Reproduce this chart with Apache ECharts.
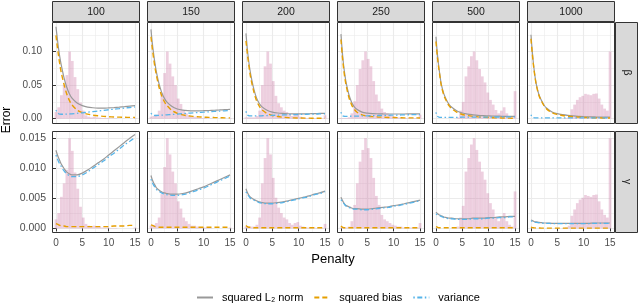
<!DOCTYPE html>
<html>
<head>
<meta charset="utf-8">
<script src="https://cdn.jsdelivr.net/npm/echarts@6/dist/echarts.min.js"></script>
<style>
html,body{margin:0;padding:0;background:#ffffff;}
#chart{width:640px;height:303px;}
</style>
</head>
<body>
<div id="chart"></div>
<script>
// ---------------- data ----------------
const SAMPLE_SIZES = ['100', '150', '200', '250', '500', '1000'];
const ROW_LABELS = ['β', 'γ'];
const SERIES_NAMES = ['squared L₂ norm', 'squared bias', 'variance'];

const PENALTY = [0, 0.25, 0.5, 0.75, 1, 1.5, 2, 2.5, 3, 4, 5, 6, 7, 8, 9, 10, 11, 12, 13, 14, 15];

const X_TICKS = [0, 5, 10, 15];
const X_MINOR = [2.5, 7.5, 12.5];
const Y_TICKS_BETA = [0, 0.05, 0.10];
const Y_MINOR_BETA = [0.025, 0.075, 0.125];
const Y_TICKS_GAMMA = [0, 0.005, 0.010, 0.015];
const Y_MINOR_GAMMA = [0.0025, 0.0075, 0.0125];

// beta row (one list per sample size, in SAMPLE_SIZES order)
const BETA_L2 = [
  [0.137, 0.120, 0.104, 0.091, 0.080, 0.062, 0.048, 0.038, 0.031, 0.0235, 0.0195, 0.0173, 0.0163, 0.0158, 0.0157, 0.0161, 0.0166, 0.0172, 0.0179, 0.0187, 0.0195],
  [0.133, 0.113, 0.097, 0.083, 0.071, 0.053, 0.040, 0.031, 0.025, 0.018, 0.0145, 0.0128, 0.0120, 0.0117, 0.0117, 0.0119, 0.0122, 0.0126, 0.0130, 0.0135, 0.0140],
  [0.127, 0.105, 0.087, 0.073, 0.062, 0.044, 0.031, 0.023, 0.018, 0.0125, 0.0098, 0.0085, 0.0078, 0.0074, 0.0072, 0.0072, 0.0073, 0.0074, 0.0076, 0.0078, 0.0080],
  [0.126, 0.100, 0.080, 0.065, 0.053, 0.036, 0.025, 0.018, 0.014, 0.0098, 0.0083, 0.0076, 0.0073, 0.0071, 0.0070, 0.0070, 0.0070, 0.0070, 0.0071, 0.0072, 0.0073],
  [0.122, 0.098, 0.080, 0.065, 0.052, 0.037, 0.028, 0.021, 0.017, 0.0115, 0.0085, 0.0068, 0.0058, 0.0050, 0.0045, 0.0041, 0.0039, 0.0037, 0.0035, 0.0034, 0.0034],
  [0.125, 0.100, 0.080, 0.064, 0.052, 0.036, 0.027, 0.020, 0.0155, 0.0100, 0.0075, 0.0060, 0.0049, 0.0041, 0.0035, 0.0031, 0.0028, 0.0026, 0.0024, 0.0023, 0.0022]
];
const BETA_BIAS = [
  [0.124, 0.108, 0.093, 0.080, 0.069, 0.052, 0.038, 0.028, 0.021, 0.013, 0.009, 0.0068, 0.0053, 0.0043, 0.0035, 0.0030, 0.0026, 0.0023, 0.0021, 0.0020, 0.0019],
  [0.122, 0.105, 0.090, 0.077, 0.066, 0.048, 0.035, 0.026, 0.020, 0.012, 0.008, 0.0057, 0.0043, 0.0034, 0.0028, 0.0023, 0.0020, 0.0017, 0.0015, 0.0013, 0.0012],
  [0.116, 0.098, 0.082, 0.068, 0.057, 0.040, 0.027, 0.019, 0.0135, 0.0078, 0.0048, 0.0032, 0.0022, 0.0016, 0.0012, 0.0010, 0.0009, 0.0008, 0.0007, 0.0007, 0.0007],
  [0.118, 0.094, 0.075, 0.060, 0.049, 0.032, 0.021, 0.0142, 0.0100, 0.0058, 0.0040, 0.0031, 0.0026, 0.0022, 0.0019, 0.0017, 0.0015, 0.0013, 0.0012, 0.0012, 0.0011],
  [0.115, 0.094, 0.077, 0.063, 0.050, 0.035, 0.026, 0.019, 0.015, 0.0094, 0.0063, 0.0046, 0.0035, 0.0027, 0.0021, 0.0017, 0.0014, 0.0012, 0.0010, 0.0008, 0.0007],
  [0.119, 0.097, 0.078, 0.063, 0.051, 0.035, 0.026, 0.019, 0.0143, 0.0088, 0.0063, 0.0048, 0.0037, 0.0029, 0.0023, 0.0019, 0.0016, 0.0014, 0.0012, 0.0011, 0.0010]
];
const BETA_VAR = [
  [0.0130, 0.0095, 0.0075, 0.0068, 0.0066, 0.0066, 0.0068, 0.0070, 0.0073, 0.0080, 0.0088, 0.0097, 0.0106, 0.0115, 0.0124, 0.0133, 0.0142, 0.0150, 0.0159, 0.0167, 0.0175],
  [0.0085, 0.0060, 0.0050, 0.0048, 0.0048, 0.0050, 0.0052, 0.0055, 0.0058, 0.0063, 0.0069, 0.0075, 0.0081, 0.0087, 0.0092, 0.0097, 0.0102, 0.0108, 0.0113, 0.0118, 0.0124],
  [0.0110, 0.0060, 0.0045, 0.0042, 0.0041, 0.0041, 0.0042, 0.0043, 0.0044, 0.0047, 0.0050, 0.0053, 0.0056, 0.0059, 0.0061, 0.0063, 0.0065, 0.0067, 0.0069, 0.0071, 0.0073],
  [0.0098, 0.0050, 0.0037, 0.0035, 0.0035, 0.0036, 0.0037, 0.0038, 0.0039, 0.0041, 0.0043, 0.0045, 0.0047, 0.0049, 0.0051, 0.0053, 0.0055, 0.0057, 0.0059, 0.0060, 0.0062],
  [0.0094, 0.0040, 0.0025, 0.0021, 0.0020, 0.0020, 0.0020, 0.0020, 0.0021, 0.0021, 0.0022, 0.0022, 0.0023, 0.0023, 0.0024, 0.0024, 0.0025, 0.0025, 0.0026, 0.0026, 0.0027],
  [0.0060, 0.0025, 0.0016, 0.0013, 0.0012, 0.0012, 0.0012, 0.0012, 0.0012, 0.0012, 0.0012, 0.0012, 0.0012, 0.0012, 0.0012, 0.0012, 0.0012, 0.0012, 0.0012, 0.0012, 0.0012]
];

// gamma row
const GAMMA_L2 = [
  [0.0130, 0.0123, 0.0117, 0.0112, 0.0107, 0.0100, 0.0094, 0.0091, 0.0089, 0.0089, 0.0092, 0.0097, 0.0103, 0.0109, 0.0115, 0.0122, 0.0129, 0.0136, 0.0143, 0.0150, 0.0156],
  [0.0088, 0.0081, 0.0076, 0.0072, 0.0068, 0.0064, 0.0061, 0.0059, 0.0058, 0.0057, 0.0057, 0.0058, 0.0060, 0.0063, 0.0066, 0.0069, 0.0073, 0.0077, 0.0081, 0.0085, 0.0089],
  [0.0066, 0.0060, 0.0056, 0.0053, 0.0051, 0.0048, 0.0046, 0.0044, 0.0043, 0.0042, 0.0042, 0.0043, 0.0044, 0.0046, 0.0048, 0.0050, 0.0052, 0.0054, 0.0057, 0.0059, 0.0062],
  [0.0052, 0.0047, 0.0043, 0.0040, 0.0038, 0.0036, 0.0034, 0.0033, 0.0033, 0.0032, 0.0032, 0.0033, 0.0034, 0.0035, 0.0036, 0.0038, 0.0039, 0.0041, 0.0043, 0.0045, 0.0047],
  [0.0027, 0.0025, 0.0023, 0.0022, 0.0021, 0.0019, 0.0018, 0.0017, 0.0017, 0.0016, 0.0016, 0.0016, 0.0017, 0.0017, 0.0017, 0.0018, 0.0018, 0.0019, 0.0019, 0.0020, 0.0020],
  [0.0014, 0.0013, 0.0012, 0.0011, 0.0011, 0.0010, 0.00095, 0.0009, 0.0009, 0.00085, 0.00085, 0.00085, 0.00085, 0.00085, 0.00085, 0.00085, 0.00085, 0.0009, 0.0009, 0.0009, 0.0009]
];
const GAMMA_BIAS = [
  [0.0008, 0.0007, 0.0006, 0.0005, 0.0004, 0.0004, 0.0003, 0.0003, 0.0003, 0.0003, 0.0003, 0.0003, 0.0003, 0.0003, 0.0003, 0.0003, 0.0004, 0.0004, 0.0004, 0.0005, 0.0005],
  [0.0006, 0.0005, 0.0004, 0.0003, 0.0003, 0.0002, 0.0002, 0.0002, 0.0002, 0.0002, 0.0002, 0.0002, 0.0002, 0.0002, 0.0002, 0.0002, 0.0002, 0.0002, 0.0002, 0.0002, 0.0002],
  [0.0005, 0.0003, 0.0002, 0.0002, 0.0002, 0.0001, 0.0001, 0.0001, 0.0001, 0.0001, 0.0001, 0.0001, 0.0001, 0.0001, 0.0001, 0.0001, 0.0001, 0.0001, 0.0001, 0.0001, 0.0001],
  [0.0004, 0.0002, 0.0001, 0.0001, 0.0001, 0.0001, 0.0001, 0.0001, 0.0001, 0.0001, 0.0001, 0.0001, 0.0001, 0.0001, 0.0001, 0.0001, 0.0001, 0.0001, 0.0001, 0.0001, 0.0001],
  [0.0003, 0.0002, 0.0001, 0.0001, 0.0001, 0.0001, 0.0001, 0.0001, 0.0001, 0.0001, 0.0001, 0.0001, 0.0001, 0.0001, 0.0001, 0.0001, 0.0001, 0.0001, 0.0001, 0.0001, 0.0001],
  [0.0002, 0.00012, 0.0001, 0.00008, 0.00007, 0.00006, 0.00005, 0.00005, 0.00005, 0.00005, 0.00005, 0.00005, 0.00005, 0.00005, 0.00005, 0.00005, 0.00005, 0.00005, 0.00005, 0.00005, 0.00005]
];
const GAMMA_VAR = [
  [0.0122, 0.0116, 0.0111, 0.0107, 0.0103, 0.0096, 0.0091, 0.0088, 0.0086, 0.0086, 0.0089, 0.0094, 0.0100, 0.0106, 0.0112, 0.0119, 0.0125, 0.0132, 0.0139, 0.0145, 0.0151],
  [0.0082, 0.0076, 0.0072, 0.0069, 0.0065, 0.0062, 0.0059, 0.0057, 0.0056, 0.0055, 0.0055, 0.0056, 0.0058, 0.0061, 0.0064, 0.0067, 0.0071, 0.0075, 0.0079, 0.0083, 0.0087],
  [0.0061, 0.0057, 0.0054, 0.0051, 0.0049, 0.0047, 0.0045, 0.0043, 0.0042, 0.0041, 0.0041, 0.0042, 0.0043, 0.0045, 0.0047, 0.0049, 0.0051, 0.0053, 0.0056, 0.0058, 0.0061],
  [0.0048, 0.0045, 0.0042, 0.0039, 0.0037, 0.0035, 0.0033, 0.0032, 0.0032, 0.0031, 0.0031, 0.0032, 0.0033, 0.0034, 0.0035, 0.0037, 0.0038, 0.0040, 0.0042, 0.0044, 0.0046],
  [0.0024, 0.0023, 0.0022, 0.0021, 0.0020, 0.0018, 0.0017, 0.0016, 0.0016, 0.0015, 0.0015, 0.0015, 0.0016, 0.0016, 0.0016, 0.0017, 0.0017, 0.0018, 0.0018, 0.0019, 0.0019],
  [0.0012, 0.0012, 0.0011, 0.0010, 0.0010, 0.00094, 0.0009, 0.00085, 0.00085, 0.0008, 0.0008, 0.0008, 0.0008, 0.0008, 0.0008, 0.0008, 0.0008, 0.00085, 0.00085, 0.00085, 0.00085]
];

// histogram of selected penalty: bin centres and heights relative to the tallest bin
const HIST_BINS = [0, 0.52, 1.03, 1.55, 2.07, 2.59, 3.10, 3.62, 4.14, 4.66, 5.17, 5.69, 6.21, 6.72, 7.24, 7.76, 8.28, 8.79, 9.31, 9.83, 10.34, 10.86, 11.38, 11.90, 12.41, 12.93, 13.45, 13.97, 14.48, 15.00];
const HIST_REL = [
  [0.10, 0.17, 0.35, 0.50, 0.65, 1.00, 0.86, 0.62, 0.44, 0.24, 0.12, 0.05, 0.03, 0.02, 0.03, 0.02, 0.015, 0.01, 0.01, 0.01, 0.005, 0.005, 0.005, 0, 0, 0, 0, 0, 0, 0.01],
  [0.03, 0.04, 0.06, 0.12, 0.38, 0.68, 1.00, 0.82, 0.63, 0.50, 0.30, 0.22, 0.12, 0.08, 0.05, 0.03, 0.03, 0.02, 0.015, 0.01, 0.01, 0.005, 0.005, 0, 0, 0, 0, 0, 0, 0.01],
  [0.02, 0.02, 0.02, 0.02, 0.04, 0.12, 0.50, 0.78, 1.00, 0.82, 0.56, 0.34, 0.23, 0.17, 0.12, 0.10, 0.06, 0.04, 0.06, 0.07, 0.03, 0.02, 0.01, 0.01, 0.01, 0.01, 0.005, 0.005, 0.005, 0.05],
  [0.01, 0.01, 0.01, 0.02, 0.08, 0.26, 0.50, 0.74, 0.87, 1.00, 0.89, 0.78, 0.56, 0.36, 0.26, 0.15, 0.10, 0.08, 0.06, 0.04, 0.03, 0.02, 0.02, 0.01, 0.01, 0.01, 0.01, 0.01, 0.01, 0.06],
  [0, 0, 0, 0, 0, 0, 0, 0, 0.02, 0.12, 0.25, 0.63, 0.78, 0.93, 1.00, 0.87, 0.74, 0.63, 0.54, 0.39, 0.28, 0.21, 0.13, 0.08, 0.12, 0.17, 0.08, 0.04, 0.02, 0.41],
  [0, 0, 0, 0, 0, 0, 0, 0, 0, 0, 0, 0, 0.005, 0.01, 0.03, 0.14, 0.21, 0.28, 0.32, 0.34, 0.37, 0.36, 0.35, 0.37, 0.375, 0.30, 0.21, 0.15, 0.12, 1.00]
];
// tallest histogram bin drawn at this error value in each row
const HIST_PEAK = [0.10, 0.015];

// ---------------- layout / style ----------------
const FONT = '"Liberation Sans", Arial, Helvetica, sans-serif';
const COL_LEFT = [52, 147, 242, 337, 432, 527];
const ROW_TOP = [22, 131];
const PW = 87, PH = 101;
const X_MIN = -0.75, X_MAX = 15.75;
const C_L2 = '#999999', C_BIAS = '#E69F00', C_VAR = '#56B4E9';
const C_HIST = 'rgba(204,121,167,0.36)';

const rows = [
  { l2: BETA_L2, bias: BETA_BIAS, vr: BETA_VAR, yMin: -0.0064, yMax: 0.144, ticks: Y_TICKS_BETA, minor: Y_MINOR_BETA, dec: 2, peak: HIST_PEAK[0], labMargin: 10, labSize: 10 },
  { l2: GAMMA_L2, bias: GAMMA_BIAS, vr: GAMMA_VAR, yMin: -0.0006, yMax: 0.0162, ticks: Y_TICKS_GAMMA, minor: Y_MINOR_GAMMA, dec: 3, peak: HIST_PEAK[1], labMargin: 6, labSize: 10.5 }
];

const BIN_W = (HIST_BINS[HIST_BINS.length - 1] - HIST_BINS[0]) / (HIST_BINS.length - 1);

const grids = [], xAxes = [], yAxes = [], series = [], graphics = [];

rows.forEach((row, r) => {
  SAMPLE_SIZES.forEach((n, c) => {
    const gi = grids.length;
    const isBottom = r === rows.length - 1;
    const isLeft = c === 0;
    grids.push({
      left: COL_LEFT[c], top: ROW_TOP[r], width: PW, height: PH,
      show: false, containLabel: false, outerBoundsMode: 'none'
    });
    // major x
    xAxes.push({
      gridIndex: gi, type: 'value', min: X_MIN, max: X_MAX, position: 'bottom',
      axisLine: { show: false },
      axisTick: { show: isBottom, customValues: X_TICKS, length: 3, lineStyle: { color: '#333333', width: 1 } },
      axisLabel: { show: isBottom, customValues: X_TICKS, margin: 6, color: '#4d4d4d', fontSize: 10, fontFamily: FONT },
      splitLine: { show: true, lineStyle: { color: '#ebebeb', width: 1.1 } }
    });
    // minor x
    xAxes.push({
      gridIndex: gi, type: 'value', min: X_MIN, max: X_MAX, position: 'top',
      axisLine: { show: false },
      axisTick: { show: false, customValues: X_MINOR },
      axisLabel: { show: false, customValues: X_MINOR },
      splitLine: { show: true, lineStyle: { color: '#ebebeb', width: 0.6 } }
    });
    // major y
    yAxes.push({
      gridIndex: gi, type: 'value', min: row.yMin, max: row.yMax, position: 'left',
      axisLine: { show: false },
      axisTick: { show: isLeft, customValues: row.ticks, length: 3, lineStyle: { color: '#333333', width: 1 } },
      axisLabel: { show: isLeft, customValues: row.ticks, margin: row.labMargin, color: '#4d4d4d', fontSize: row.labSize, fontFamily: FONT,
        formatter: v => Number(v).toFixed(row.dec) },
      splitLine: { show: true, lineStyle: { color: '#ebebeb', width: 1.1 } }
    });
    // minor y
    yAxes.push({
      gridIndex: gi, type: 'value', min: row.yMin, max: row.yMax, position: 'right',
      axisLine: { show: false },
      axisTick: { show: false, customValues: row.minor },
      axisLabel: { show: false, customValues: row.minor },
      splitLine: { show: true, lineStyle: { color: '#ebebeb', width: 0.6 } }
    });
    const xi = 2 * gi, yi = 2 * gi;
    // histogram
    series.push({
      type: 'custom', xAxisIndex: xi, yAxisIndex: yi, silent: true, clip: true,
      data: HIST_BINS.map((b, k) => [b, HIST_REL[c][k] * row.peak]),
      renderItem: (params, api) => {
        const x = api.value(0), h = api.value(1);
        const p0 = api.coord([x - BIN_W / 2, h]);
        const p1 = api.coord([x + BIN_W / 2, 0]);
        return {
          type: 'rect',
          shape: { x: p0[0], y: p0[1], width: p1[0] - p0[0], height: p1[1] - p0[1] },
          style: { fill: C_HIST }
        };
      }
    });
    const mk = (name, arr, color, width, type) => ({
      type: 'line', name, xAxisIndex: xi, yAxisIndex: yi,
      data: PENALTY.map((p, k) => [p, arr[c][k]]),
      symbol: 'none', showSymbol: false, smooth: 0.3, silent: true, clip: true,
      itemStyle: { color },
      lineStyle: { color, width, type }
    });
    series.push(mk(SERIES_NAMES[0], row.l2, C_L2, 1.2, 'solid'));
    series.push(mk(SERIES_NAMES[1], row.bias, C_BIAS, 1.4, [5, 3]));
    series.push(mk(SERIES_NAMES[2], row.vr, C_VAR, 1.3, [1.5, 2.5, 5, 2.5]));
    // panel border (drawn above data)
    graphics.push({ type: 'rect', z: 100, silent: true,
      shape: { x: COL_LEFT[c] + 0.5, y: ROW_TOP[r] + 0.5, width: PW, height: PH },
      style: { fill: 'none', stroke: '#333333', lineWidth: 1 } });
  });
});

// strips (facet labels)
SAMPLE_SIZES.forEach((n, c) => {
  graphics.push({ type: 'rect', shape: { x: COL_LEFT[c] + 0.5, y: 1.5, width: PW, height: 20 },
    style: { fill: '#d9d9d9', stroke: '#333333', lineWidth: 1 }, silent: true });
  graphics.push({ type: 'text', x: COL_LEFT[c] + PW / 2 + 0.5, y: 12, silent: true,
    style: { text: n, fontSize: 10.5, fontFamily: FONT, fill: '#1a1a1a', align: 'center', verticalAlign: 'middle' } });
});
ROW_LABELS.forEach((lab, r) => {
  graphics.push({ type: 'rect', shape: { x: 615.5, y: ROW_TOP[r] + 0.5, width: 22, height: PH },
    style: { fill: '#d9d9d9', stroke: '#333333', lineWidth: 1 }, silent: true });
  graphics.push({ type: 'text', x: 627, y: ROW_TOP[r] + PH / 2, rotation: -Math.PI / 2, silent: true,
    style: { text: lab, fontSize: 10.5, fontFamily: FONT, fill: '#1a1a1a', align: 'center', verticalAlign: 'middle' } });
});
// axis titles
graphics.push({ type: 'text', x: 333, y: 259.5, silent: true,
  style: { text: 'Penalty', fontSize: 13, fontFamily: FONT, fill: '#000000', align: 'center', verticalAlign: 'middle' } });
graphics.push({ type: 'text', x: 7, y: 120, rotation: Math.PI / 2, silent: true,
  style: { text: 'Error', fontSize: 12, fontFamily: FONT, fill: '#000000', align: 'center', verticalAlign: 'middle' } });

const option = {
  animation: false,
  backgroundColor: '#ffffff',
  grid: grids,
  xAxis: xAxes,
  yAxis: yAxes,
  legend: {
    data: SERIES_NAMES,
    left: 191, top: 287,
    itemWidth: 16, itemHeight: 12, itemGap: 10,
    selectedMode: false,
    itemStyle: { opacity: 0 },
    textStyle: { fontSize: 11, fontFamily: FONT, color: '#000000', padding: [0, 0, 0, 4] }
  },
  graphic: graphics,
  series: series
};

const chart = echarts.init(document.getElementById('chart'), null, { renderer: 'canvas' });
chart.setOption(option);
</script>
</body>
</html>
